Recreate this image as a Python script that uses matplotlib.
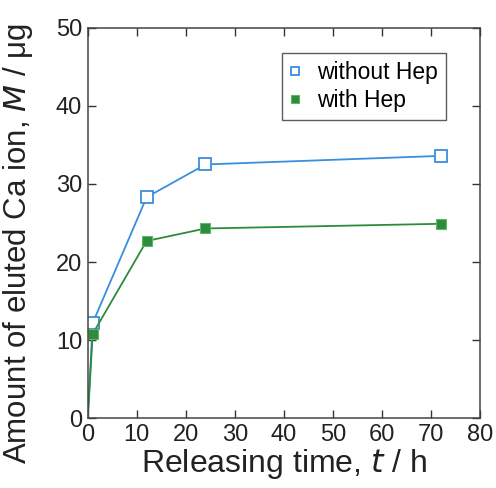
import matplotlib
matplotlib.use("Agg")
import matplotlib.pyplot as plt

plt.rcParams['font.family'] = ['Liberation Sans', 'DejaVu Sans']

TIME = [0, 1, 12, 24, 72]
WITHOUT_HEP = [0, 12.2, 28.3, 32.5, 33.6]
WITH_HEP = [0, 10.8, 22.7, 24.3, 24.9]

BLUE = '#3a8edb'
GREEN = '#2e8b3c'

fig = plt.figure(figsize=(4.96, 4.88), dpi=100)
ax = fig.add_axes([0.177, 0.143, 0.791, 0.8])

marks = list(range(1, len(TIME)))
ax.plot(TIME, WITHOUT_HEP, color=BLUE, linewidth=1.3, marker='s', markersize=8,
        markerfacecolor='white', markeredgecolor=BLUE, markeredgewidth=1.3,
        markevery=marks, label='without Hep')
ax.plot(TIME, WITH_HEP, color=GREEN, linewidth=1.3, marker='s', markersize=6.5,
        markerfacecolor=GREEN, markeredgecolor='#5cb868', markeredgewidth=0.8,
        markevery=marks, label='with Hep')

ax.set_xlim(0, 80)
ax.set_ylim(0, 50)
ax.set_xticks(range(0, 81, 10))
ax.set_yticks(range(0, 51, 10))
ax.tick_params(direction='in', top=True, right=True, length=6, width=1,
               labelsize=17, pad=4, color='#333333', labelcolor='#222222')
for s in ax.spines.values():
    s.set_color('#444444')
    s.set_linewidth(1.1)

ax.set_xlabel('Releasing time, $\\it{t}$ / h', fontsize=23, labelpad=1, color='#222222')
ax.set_ylabel('Amount of eluted Ca ion, $\\it{M}$ / \u03bcg', fontsize=22.5,
              color='#222222')
ax.yaxis.set_label_coords(-0.134, 0.447)

leg = ax.legend(loc='upper right', bbox_to_anchor=(0.913, 0.935), fontsize=16.5,
                handlelength=0.5, handletextpad=0.7, frameon=True, fancybox=False,
                edgecolor='#333333', borderpad=0.35, labelspacing=0.2,
                borderaxespad=0, markerscale=0.8)
leg.get_frame().set_linewidth(1.0)
for h in leg.legend_handles:
    h.set_linestyle('None')

fig.savefig('out.png', dpi=100)
